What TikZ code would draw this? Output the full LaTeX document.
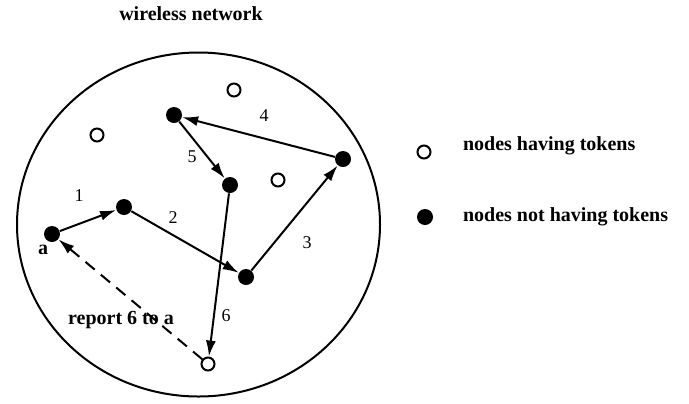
\documentclass[tikz,border=0pt]{standalone}
\usepackage{fontspec}
\setmainfont{Liberation Serif}
\usetikzlibrary{arrows.meta}
\begin{document}
\begin{tikzpicture}[x=0.5pt,y=-0.5pt,
      hold/.style={circle,draw,fill=white,line width=1pt,inner sep=0pt,minimum size=6.5pt},
      free/.style={circle,fill=black,inner sep=0pt,minimum size=8pt},
      hop/.style={-{Latex[length=8pt,width=5pt]},line width=1pt},
      num/.style={font=\fontsize{9}{10}\selectfont},
      lbl/.style={font=\bfseries\fontsize{10}{12}\selectfont}]
    \useasboundingbox (0,0) rectangle (689,403);
    \node[lbl] (title) at(191,14){wireless network};
    \draw[line width=1pt] (198.5,224.5) ellipse [x radius=181.5,y radius=172];
    \node[free] (a) at(52,234){};
    \node[free] (b) at(124,207){};
    \node[free] (c) at(246,277){};
    \node[free] (d) at(343,159){};
    \node[free] (e) at(174,115){};
    \node[free] (f) at(230,185){};
    \node[hold] (t1) at(97,135){};
    \node[hold] (t2) at(234,90){};
    \node[hold] (t3) at(278,180){};
    \node[hold] (t4) at(208,364){};
    \draw[hop] (a) -- (b);
    \draw[hop] (b) -- (c);
    \draw[hop] (c) -- (d);
    \draw[hop] (d) -- (e);
    \draw[hop] (e) -- (f);
    \draw[hop] (f) -- (t4);
    \draw[hop,dash pattern=on 6pt off 4pt] (t4) -- (a);
    \node[num] (l1) at(79,196){1};
    \node[num] (l2) at(173,218){2};
    \node[num] (l3) at(307,243){3};
    \node[num] (l4) at(264,116){4};
    \node[num] (l5) at(192,157){5};
    \node[num] (l6) at(226,316){6};
    \node[lbl] (la) at(43,250){a};
    \node[lbl] (rep) at(121,320){report 6 to a};
    \node[hold] (keyt) at(424,152){};
    \node[lbl,anchor=west] (keyta) at(456,146){nodes having tokens};
    \node[free] (keyf) at(425,217){};
    \node[lbl,anchor=west] (keyfa) at(456,217){nodes not having tokens};
\end{tikzpicture}
\end{document}
